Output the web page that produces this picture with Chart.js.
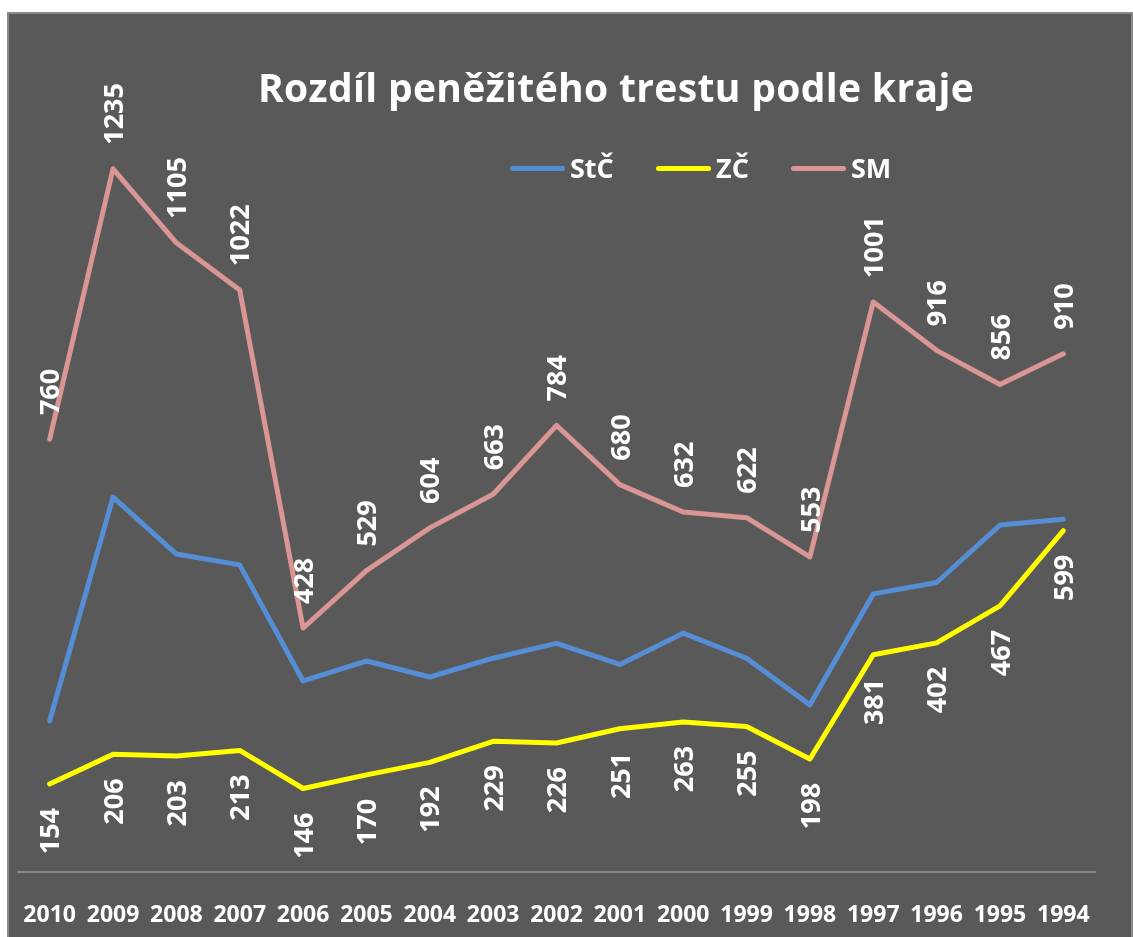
<!DOCTYPE html>
<html>
<head>
<meta charset="utf-8">
<script src="https://cdn.jsdelivr.net/npm/chart.js@4"></script>
<style>
    body { margin: 0; background: #fff; width: 1133px; height: 937px; overflow: hidden; font-family: "Open Sans", sans-serif; }
    #box { position: absolute; left: 7px; top: 12px; width: 1122px; height: 923px; background: #595959; border: 2px solid #8a8a8a; }
    #title { position: absolute; left: 116px; top: 64px; width: 1000px; text-align: center; color: #fff; font-weight: bold; font-size: 39px; letter-spacing: 0.35px; line-height: 46px; }
    .item { position: absolute; top: 151px; height: 34px; display: flex; align-items: center; color: #fff; font-weight: bold; font-size: 27px; line-height: 34px; }
    .item span { display: inline-block; width: 55px; height: 5px; border-radius: 3px; margin-right: 5px; }
</style>
</head>
<body>
<div id="box"><canvas id="lineChart" width="1122" height="923"></canvas></div>
<div id="title">Rozdíl peněžitého trestu podle kraje</div>
<div class="item" style="left:510px"><span style="background:#558ED5"></span>StČ</div>
<div class="item" style="left:656px"><span style="background:#FFFF00"></span>ZČ</div>
<div class="item" style="left:791px"><span style="background:#D99694"></span>SM</div>
<script>
const years = ["2010", "2009", "2008", "2007", "2006", "2005", "2004", "2003", "2002",
    "2001", "2000", "1999", "1998", "1997", "1996", "1995", "1994"];
const stcValues = [265, 658, 558, 539, 335, 370, 342, 375, 401, 364, 419, 375, 293, 488, 508, 609, 619];
const zcValues = [154, 206, 203, 213, 146, 170, 192, 229, 226, 251, 263, 255, 198, 381, 402, 467, 599];
const smValues = [760, 1235, 1105, 1022, 428, 529, 604, 663, 784, 680, 632, 622, 553, 1001, 916, 856, 910];

// vertical value labels, like the Excel ones
const rotatedLabels = {
    id: "rotatedLabels",
    afterDatasetsDraw(chart) {
        const ctx = chart.ctx;
        ctx.save();
        ctx.font = 'bold 27px "Open Sans"';
        ctx.fillStyle = "#fff";
        ctx.textBaseline = "middle";
        chart.data.datasets.forEach((ds, i) => {
            if (!ds.labelSide) return;
            chart.getDatasetMeta(i).data.forEach((pt, j) => {
                const above = ds.labelSide === "above";
                ctx.save();
                ctx.translate(pt.x + 2, above ? pt.y - 24 : pt.y + 24);
                ctx.rotate(-Math.PI / 2);
                ctx.textAlign = above ? "left" : "right";
                ctx.fillText(String(ds.data[j]), 0, 0);
                ctx.restore();
            });
        });
        ctx.restore();
    }
};

const lineStyle = { borderWidth: 5, pointRadius: 0, tension: 0, borderCapStyle: "round", borderJoinStyle: "round", clip: false };

new Chart(document.getElementById("lineChart"), {
    type: "line",
    data: {
        labels: years,
        datasets: [
            { label: "StČ", data: stcValues, borderColor: "#558ED5", ...lineStyle },
            { label: "ZČ", data: zcValues, borderColor: "#FFFF00", labelSide: "below", ...lineStyle },
            { label: "SM", data: smValues, borderColor: "#D99694", labelSide: "above", ...lineStyle }
        ]
    },
    options: {
        responsive: false,
        animation: false,
        devicePixelRatio: 1,
        layout: { padding: { left: 9, right: 36, top: 4, bottom: 0 } },
        plugins: {
            legend: { display: false },
            title: { display: false },
            tooltip: { enabled: false }
        },
        scales: {
            x: {
                offset: true,
                grid: { display: false, drawTicks: false },
                border: { display: true, color: "#858585", width: 2 },
                ticks: {
                    color: "#fff",
                    padding: 0,
                    autoSkip: false,
                    maxRotation: 0,
                    // tall line box puts the year labels well below the axis line
                    font: { family: "Open Sans", size: 23, weight: "bold", lineHeight: 3.77 }
                },
                afterFit: (scale) => { scale.height = 65.4; }
            },
            y: { display: false, min: 0, max: 1500 }
        }
    },
    plugins: [rotatedLabels]
});
</script>
</body>
</html>
